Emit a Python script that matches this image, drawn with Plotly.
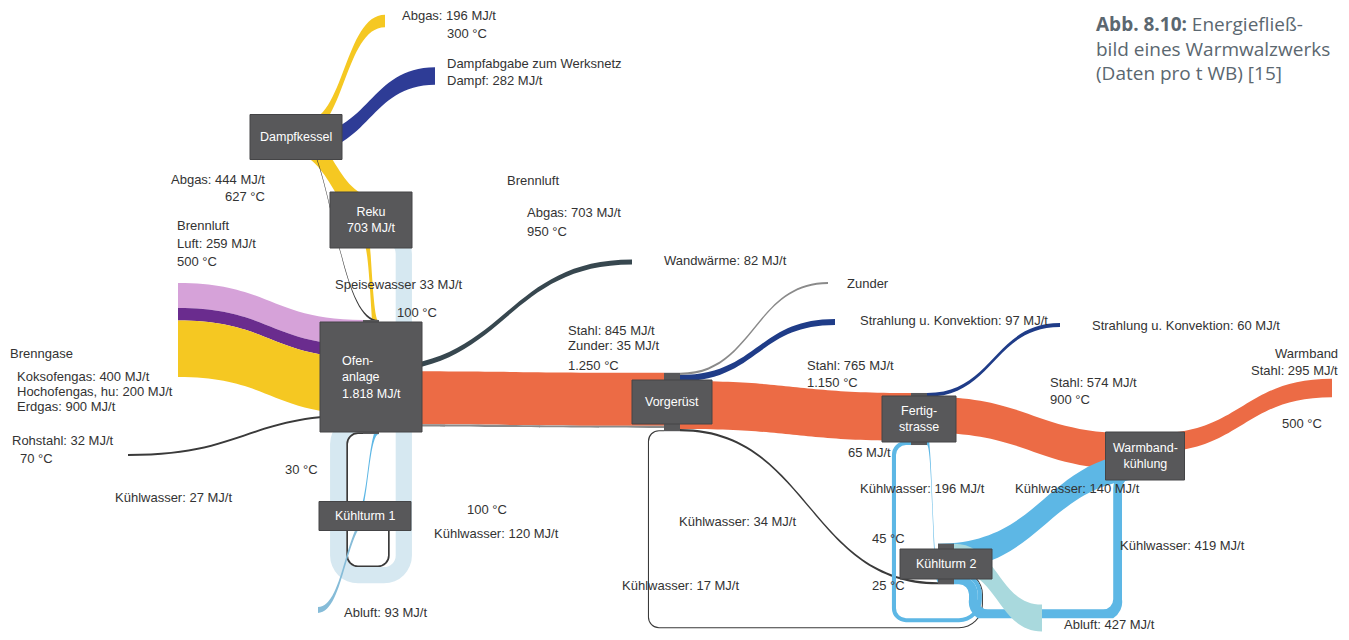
import plotly.graph_objects as go

# --- data -----------------------------------------------------------------
node_names = [
    "Brenngase", "Rohstahl", "Ofenanlage", "Reku", "Dampfkessel",
    "Abgas", "Dampfabgabe zum Werksnetz", "Wandwärme", "Vorgerüst", "Zunder",
    "Strahlung u. Konvektion (Vorgerüst)", "Fertigstrasse",
    "Strahlung u. Konvektion (Fertigstrasse)", "Warmbandkühlung", "Warmband",
    "Kühlturm 1", "Abluft (Kühlturm 1)", "Kühlturm 2", "Abluft (Kühlturm 2)",
]

link_source = [0, 0, 0, 1, 3, 2, 3, 2, 4, 4, 2, 2, 2, 2, 15, 15,
               8, 8, 8, 8, 17, 11, 11, 11, 17, 13, 13, 17, 17]
link_target = [2, 2, 2, 2, 2, 3, 4, 4, 5, 6, 7, 8, 8, 15, 2, 16,
               9, 10, 11, 17, 8, 12, 13, 17, 11, 14, 17, 13, 18]
link_value = [400, 200, 900, 32, 259, 703, 444, 33, 196, 282, 82, 845, 35, 120, 27, 93,
              35, 97, 765, 34, 17, 60, 574, 196, 65, 295, 419, 140, 427]
link_kind = ["koks", "hoch", "gas", "line", "luft", "gas", "gas", "line", "gas", "dampf",
             "wand", "stahl", "zunder", "kw", "line", "abluft1",
             "zunder", "strahl", "stahl", "line", "line", "strahl", "stahl", "kw",
             "kw", "stahl", "kw", "kw", "abluft2"]
link_names = ["Koksofengas", "Hochofengas", "Erdgas", "Rohstahl", "Brennluft", "Abgas",
              "Abgas", "Speisewasser", "Abgas", "Dampf", "Wandwärme", "Stahl", "Zunder",
              "Kühlwasser", "Kühlwasser", "Abluft", "Zunder", "Strahlung u. Konvektion",
              "Stahl", "Kühlwasser", "Kühlwasser", "Strahlung u. Konvektion", "Stahl",
              "Kühlwasser", "Kühlwasser", "Stahl", "Kühlwasser", "Kühlwasser", "Abluft"]

# --- layout (positions / styles) -------------------------------------------
OFF = 8                      # page margin of the html body
W, H = 1349 - 2 * OFF, 640 - 2 * OFF


def fx(px):
    return (px - OFF) / W


def fy(py):                  # sankey y: measured from the top
    return (py - OFF) / H


# node centres in page pixels
NODE_PX = [(170, 330), (120, 455), (371, 377), (371, 220), (296, 137),
           (393, 21), (443, 76), (640, 262), (672, 402), (836, 283),
           (843, 322), (919, 419), (1068, 325), (1145, 456), (1340, 388),
           (365, 516), (326, 610), (946, 564), (1050, 618)]
# process boxes: node index -> (width px, height px, label)
BOXES = {
    2: (102, 110, "Ofen-<br>anlage<br>1.818 MJ/t"),
    3: (82, 56, "Reku<br>703 MJ/t"),
    4: (92, 45, "Dampfkessel"),
    8: (80, 44, "Vorgerüst"),
    11: (74, 46, "Fertig-<br>strasse"),
    13: (79, 48, "Warmband-<br>kühlung"),
    15: (92, 29, "Kühlturm 1"),
    17: (92, 30, "Kühlturm 2"),
}
KIND_COLOR = {
    "gas": "#F5C822", "koks": "#D6A2D9", "hoch": "#6A2C8E", "luft": "#D6E8F1",
    "stahl": "#EC6B45", "kw": "#5DB7E5", "line": "#3A3A3A", "zunder": "#8A8A8A",
    "wand": "#37474F", "strahl": "#1F3C88", "dampf": "#2E3C96",
    "abluft1": "#86BCD8", "abluft2": "#A9D9DD",
}
BOX_COLOR = "#58585A"
node_colors = [BOX_COLOR if i in BOXES else "rgba(0,0,0,0)" for i in range(len(node_names))]

fig = go.Figure(go.Sankey(
    arrangement="fixed",
    domain=dict(x=[0, 1], y=[0, 1]),
    node=dict(label=node_names,
              x=[fx(p[0]) for p in NODE_PX], y=[fy(p[1]) for p in NODE_PX],
              thickness=16, pad=30, color=node_colors, line=dict(width=0)),
    link=dict(source=link_source, target=link_target, value=link_value,
              label=link_names, color=[KIND_COLOR[k] for k in link_kind]),
    textfont=dict(color="rgba(0,0,0,0)", size=1),
))

shapes, annotations = [], []
for i, (bw, bh, txt) in BOXES.items():
    cx, cy = NODE_PX[i]
    shapes.append(dict(type="rect", xref="paper", yref="paper", layer="above",
                       x0=fx(cx - bw / 2), x1=fx(cx + bw / 2),
                       y0=1 - fy(cy + bh / 2), y1=1 - fy(cy - bh / 2),
                       fillcolor=BOX_COLOR, line=dict(color="#444446", width=1)))
    annotations.append(dict(x=fx(cx), y=1 - fy(cy), xref="paper", yref="paper", text=txt,
                            xanchor="center", yanchor="middle", showarrow=False,
                            font=dict(color="white", size=12.5),
                            align="left" if i == 2 else "center"))

# text labels: (text, x px, y px, anchor)
LABELS = [
    ("Abgas: 196 MJ/t", 400, 16, "left"), ("300 °C", 445, 34, "left"),
    ("Dampfabgabe zum Werksnetz", 445, 63, "left"), ("Dampf: 282 MJ/t", 445, 80, "left"),
    ("Abgas: 444 MJ/t", 267, 179, "right"), ("627 °C", 267, 196, "right"),
    ("Brennluft", 505, 180, "left"),
    ("Abgas: 703 MJ/t", 525, 213, "left"), ("950 °C", 525, 231, "left"),
    ("Brennluft", 175, 225, "left"), ("Luft: 259 MJ/t", 175, 243, "left"),
    ("500 °C", 175, 261, "left"),
    ("Speisewasser 33 MJ/t", 333, 284, "left"), ("100 °C", 395, 312, "left"),
    ("Brenngase", 8, 353, "left"),
    ("Koksofengas: 400 MJ/t", 15, 376, "left"),
    ("Hochofengas, hu: 200 MJ/t", 15, 391, "left"),
    ("Erdgas: 900 MJ/t", 15, 406, "left"),
    ("Rohstahl: 32 MJ/t", 10, 440, "left"), ("70 °C", 18, 458, "left"),
    ("Stahl: 845 MJ/t", 566, 330, "left"), ("Zunder: 35 MJ/t", 566, 345, "left"),
    ("1.250 °C", 566, 365, "left"),
    ("Wandwärme: 82 MJ/t", 662, 260, "left"), ("Zunder", 845, 283, "left"),
    ("Strahlung u. Konvektion: 97 MJ/t", 858, 320, "left"),
    ("Strahlung u. Konvektion: 60 MJ/t", 1090, 325, "left"),
    ("Warmband", 1340, 353, "right"), ("Stahl: 295 MJ/t", 1340, 370, "right"),
    ("500 °C", 1280, 423, "left"),
    ("Stahl: 765 MJ/t", 805, 365, "left"), ("1.150 °C", 805, 382, "left"),
    ("Stahl: 574 MJ/t", 1048, 382, "left"), ("900 °C", 1048, 399, "left"),
    ("65 MJ/t", 846, 452, "left"),
    ("Kühlwasser: 196 MJ/t", 858, 488, "left"), ("Kühlwasser: 140 MJ/t", 1013, 488, "left"),
    ("Kühlwasser: 34 MJ/t", 677, 521, "left"), ("Kühlwasser: 419 MJ/t", 1118, 545, "left"),
    ("45 °C", 870, 538, "left"), ("25 °C", 870, 585, "left"),
    ("Kühlwasser: 17 MJ/t", 620, 585, "left"), ("Abluft: 427 MJ/t", 1062, 624, "left"),
    ("Abluft: 93 MJ/t", 342, 612, "left"), ("30 °C", 283, 469, "left"),
    ("Kühlwasser: 27 MJ/t", 113, 497, "left"), ("100 °C", 465, 509, "left"),
    ("Kühlwasser: 120 MJ/t", 432, 533, "left"),
]
for txt, px, py, anc in LABELS:
    annotations.append(dict(x=fx(px), y=1 - fy(py), xref="paper", yref="paper", text=txt,
                            xanchor=anc, yanchor="middle", showarrow=False,
                            font=dict(size=13, color="#333333")))

annotations.append(dict(
    x=fx(1094), y=1 - fy(9), xref="paper", yref="paper", xanchor="left", yanchor="top",
    align="left", showarrow=False,
    text="<b>Abb. 8.10:</b> Energiefließ-<br>bild eines Warmwalzwerks<br>(Daten pro t WB) [15]",
    font=dict(family="Open Sans, Noto Sans, sans-serif", size=19, color="#5B6770"),
))

fig.update_layout(
    width=W, height=H, margin=dict(l=0, r=0, t=0, b=0),
    paper_bgcolor="white", plot_bgcolor="white",
    font=dict(family="Liberation Sans Narrow, Liberation Sans, Arial, sans-serif"),
    shapes=shapes, annotations=annotations,
)

fig.write_html("out.html")
